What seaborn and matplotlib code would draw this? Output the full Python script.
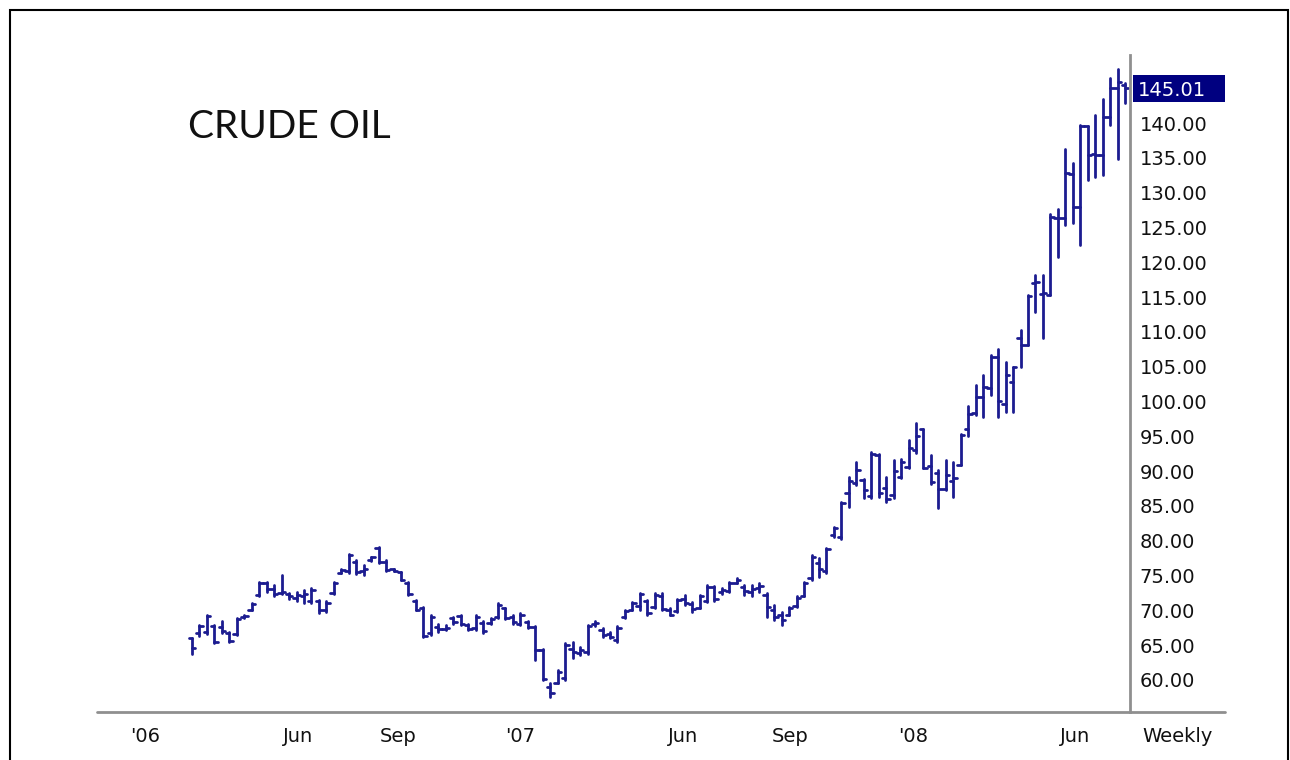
import numpy as np
import pandas as pd
import matplotlib.pyplot as plt
import seaborn as sns
from matplotlib.lines import Line2D
from matplotlib.patches import Rectangle
from matplotlib.transforms import blended_transform_factory

# weekly OHLC, crude oil
opens = [66.0, 66.8, 66.9, 67.8, 67.6, 66.8, 66.6, 69.0, 70.1, 72.2,
         74.0, 73.0, 72.5, 72.3, 71.8, 72.0, 71.4, 71.3, 70.0, 72.5,
         75.4, 75.6, 77.0, 75.6, 77.2, 79.0, 77.0, 75.9, 75.5, 74.0,
         71.4, 70.3, 66.8, 67.6, 67.3, 68.9, 69.2, 67.9, 67.5, 68.2,
         68.2, 69.1, 70.3, 69.0, 68.1, 68.3, 67.6, 64.3, 59.0, 59.6,
         60.3, 64.5, 63.9, 64.0, 68.0, 67.2, 66.6, 65.8, 69.0, 70.1,
         70.6, 71.3, 70.5, 72.0, 70.1, 69.9, 71.6, 70.9, 70.4, 71.4,
         73.3, 72.6, 72.8, 74.0, 73.3, 72.6, 73.2, 72.2, 70.0, 69.3,
         69.4, 70.6, 72.1, 74.6, 76.8, 75.6, 80.8, 80.5, 86.8, 88.3,
         88.7, 86.4, 92.3, 87.6, 86.5, 89.1, 90.6, 93.0, 96.0, 90.7,
         89.8, 87.4, 88.6, 90.9, 96.0, 98.4, 100.7, 101.9, 106.4, 99.7,
         102.8, 109.1, 108.1, 117.0, 115.5, 115.3, 126.3, 126.4, 132.7, 128.0,
         139.5, 135.6, 135.4, 140.9, 145.0, 145.4]
highs = [66.1, 67.9, 69.3, 67.9, 68.4, 66.9, 68.9, 69.3, 71.0, 74.1,
         74.1, 73.6, 75.1, 72.5, 72.7, 72.9, 73.2, 71.5, 71.3, 74.1,
         76.0, 78.05, 77.2, 76.5, 77.7, 79.15, 77.2, 76.0, 75.55, 74.1,
         71.5, 70.5, 69.3, 68.0, 67.9, 69.1, 69.3, 68.1, 69.3, 68.4,
         68.9, 71.0, 70.4, 69.3, 69.6, 68.4, 67.7, 64.5, 59.5, 61.4,
         65.3, 65.5, 64.8, 67.9, 68.4, 67.4, 66.9, 67.7, 70.05, 71.25,
         72.45, 71.5, 72.45, 72.45, 70.3, 71.7, 72.2, 71.25, 72.2, 73.6,
         73.5, 73.2, 74.1, 74.6, 73.6, 73.6, 73.9, 72.45, 70.8, 69.8,
         70.5, 72.0, 74.1, 77.9, 77.5, 78.9, 82.0, 85.6, 89.2, 91.35,
         88.9, 92.8, 92.4, 89.2, 91.6, 91.8, 94.5, 96.9, 96.1, 92.3,
         90.2, 91.6, 91.35, 95.4, 99.4, 102.4, 103.8, 106.7, 107.6, 105.7,
         105.0, 110.3, 115.3, 118.2, 118.2, 126.9, 127.7, 136.3, 134.2, 139.7,
         139.5, 141.1, 143.5, 146.4, 147.8, 145.7]
lows = [63.7, 66.3, 66.6, 65.3, 66.7, 65.5, 66.5, 68.9, 70.0, 72.0,
        72.7, 72.0, 72.3, 71.7, 71.3, 71.0, 71.0, 69.6, 69.8, 72.4,
        75.3, 75.3, 75.2, 75.1, 77.1, 76.75, 75.65, 75.6, 74.35, 72.2,
        70.05, 66.2, 66.5, 66.9, 67.2, 68.1, 67.9, 67.2, 67.2, 66.7,
        68.1, 68.9, 68.7, 68.1, 67.9, 67.4, 62.9, 60.0, 57.6, 59.5,
        60.0, 63.1, 63.6, 63.8, 67.7, 66.2, 66.0, 65.5, 68.9, 70.05,
        70.05, 69.4, 70.3, 70.05, 69.3, 69.8, 70.8, 69.8, 70.3, 71.25,
        71.3, 72.4, 72.7, 73.9, 72.2, 72.0, 72.7, 69.1, 68.6, 67.9,
        69.3, 70.5, 72.0, 74.4, 74.8, 75.3, 80.6, 80.3, 84.9, 88.0,
        86.1, 86.1, 86.3, 85.6, 86.1, 89.0, 90.4, 92.55, 90.4, 88.2,
        84.65, 87.3, 86.3, 90.9, 95.0, 98.0, 97.8, 100.9, 97.8, 98.5,
        98.5, 105.0, 108.1, 112.9, 109.1, 115.3, 120.8, 125.3, 125.6, 122.5,
        131.8, 132.3, 132.5, 139.7, 134.8, 142.9]
closes = [64.6, 67.7, 69.2, 65.4, 67.0, 65.6, 68.8, 69.2, 70.9, 74.0,
          73.0, 72.4, 72.6, 72.0, 72.2, 72.4, 72.9, 70.0, 71.0, 74.0,
          75.8, 77.9, 75.5, 76.0, 77.6, 76.9, 75.8, 75.7, 74.4, 72.3,
          70.1, 66.3, 69.1, 67.3, 67.5, 68.3, 68.1, 67.3, 69.0, 67.0,
          68.8, 70.8, 68.9, 68.3, 69.4, 67.6, 64.3, 60.2, 58.2, 61.2,
          65.0, 64.0, 64.3, 67.7, 68.2, 66.4, 66.2, 67.5, 69.9, 71.1,
          72.3, 69.6, 72.2, 70.2, 69.4, 71.5, 71.0, 70.2, 72.0, 73.4,
          71.6, 72.9, 73.9, 74.4, 72.8, 73.0, 73.5, 70.5, 69.0, 68.6,
          70.3, 71.8, 73.9, 77.6, 75.9, 78.8, 81.8, 85.4, 88.6, 90.2,
          87.3, 92.5, 86.9, 86.0, 90.0, 91.3, 93.3, 95.0, 90.5, 88.5,
          87.5, 89.5, 89.0, 95.2, 98.2, 100.7, 102.1, 106.4, 100.0, 103.8,
          105.0, 108.1, 115.2, 117.2, 115.6, 126.5, 126.4, 132.8, 128.0, 139.5,
          135.4, 135.4, 140.9, 145.0, 145.9, 145.01]
weeks = np.arange(1, len(closes) + 1)

month_labels = ["'06", "Jun", "Sep", "'07", "Jun", "Sep", "'08", "Jun"]
month_weeks = [-7.3, 13.2, 26.2, 42.9, 64.8, 78.7, 95.6, 117.3]
price_ticks = np.arange(60, 145, 5)
last_price = closes[-1]

BAR = '#1c1c90'
NAVY = '#000080'
GREY = '#8f8f8f'

sns.set_style('white')
plt.rcParams['font.family'] = ['DejaVu Sans']

W, H = 1290, 760
fig = plt.figure(figsize=(W / 100, H / 100), dpi=100)
fig.patch.set_facecolor('white')
ax = fig.add_axes([97 / W, 1 - 712 / H, (1130 - 97) / W, (712 - 55) / H])

# each OHLC bar = three small segments (high-low, open tick, close tick)
tick = 0.45
rows = []
for w, o, h, l, c in zip(weeks, opens, highs, lows, closes):
    rows += [(f'{w}hl', w, h), (f'{w}hl', w, l),
             (f'{w}o', w - tick, o), (f'{w}o', w, o),
             (f'{w}c', w, c), (f'{w}c', w + tick, c)]
seg = pd.DataFrame(rows, columns=['seg', 'x', 'y'])
sns.lineplot(data=seg, x='x', y='y', units='seg', estimator=None, sort=False,
             color=BAR, lw=2.0, ax=ax)

ax.set_xlim(-11.73, 126.67)
ax.set_ylim(55.40, 149.77)
ax.set_xlabel('')
ax.set_ylabel('')

for s in ['top', 'left', 'bottom']:
    ax.spines[s].set_visible(False)
ax.spines['right'].set_color(GREY)
ax.spines['right'].set_linewidth(2.0)

ax.yaxis.tick_right()
ax.set_yticks(price_ticks, [f'{v:.2f}' for v in price_ticks])
ax.tick_params(axis='y', length=0, pad=7, labelsize=14, labelcolor='#111111')
ax.set_xticks(month_weeks, month_labels)
ax.tick_params(axis='x', length=0, pad=11, labelsize=14, labelcolor='#111111')
for t in ax.get_xticklabels():
    t.set_ha('left')

# last price tag
tr = blended_transform_factory(ax.transAxes, ax.transData)
ax.add_patch(Rectangle((1 + 3 / 1033, last_price - 1.94), 92 / 1033, 3.88,
                       transform=tr, facecolor=NAVY, edgecolor='none', clip_on=False))
ax.text(1 + 8 / 1033, last_price, f'{last_price:.2f}', transform=tr, color='white',
        fontsize=14, va='center_baseline', ha='left', clip_on=False)

# bottom axis line (runs past the price scale)
fig.add_artist(Line2D([97 / W, 1225 / W], [1 - 712 / H] * 2, color=GREY, lw=2.0))
fig.text(1142 / W, 1 - 742 / H, 'Weekly', fontsize=14, color='#111111', ha='left', va='baseline')

fig.text(188 / W, 1 - 138 / H, 'CRUDE OIL', family=['Lato', 'DejaVu Sans'], fontsize=28,
         color='#111111', ha='left', va='baseline')

# outer frame
fig.add_artist(Rectangle((10 / W, -0.1), (1288 - 10) / W, 1.1 - 10 / H,
                         transform=fig.transFigure, fill=False, edgecolor='black', lw=1.5))

fig.savefig('out.png', dpi=100)
